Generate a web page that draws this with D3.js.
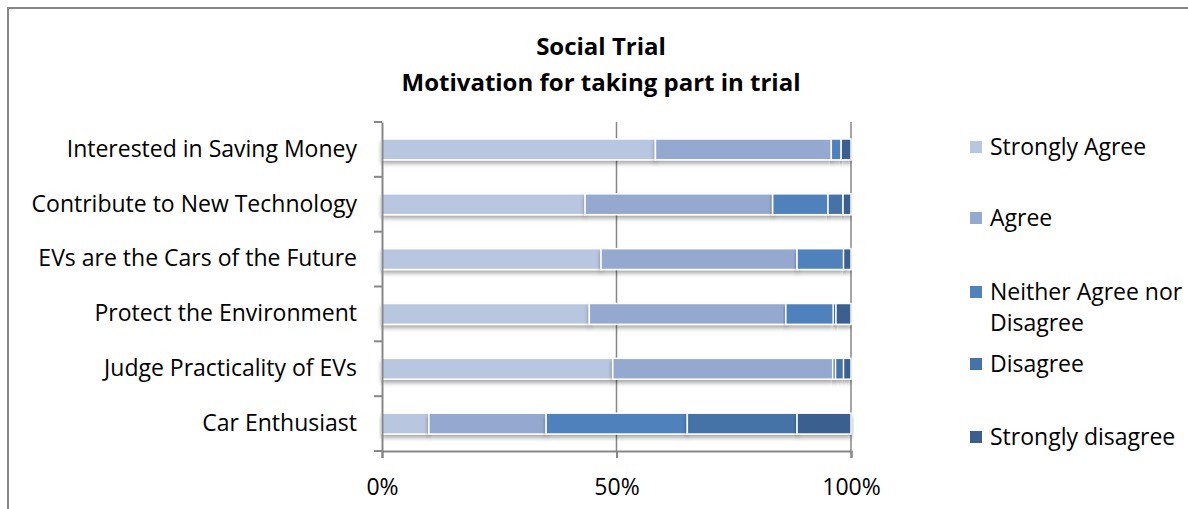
<!DOCTYPE html>
<html>
<head>
<meta charset="utf-8">
<script src="https://cdn.jsdelivr.net/npm/d3@7"></script>
<style>
  body { margin: 0; background: #fff; }
  text { font-family: "Open Sans", "Noto Sans", sans-serif; fill: #000; }
</style>
</head>
<body>
<svg id="chart" width="1188" height="509"></svg>
<script>
// chart data (percent of respondents)
var categories = ["Interested in Saving Money", "Contribute to New Technology", "EVs are the Cars of the Future",
                  "Protect the Environment", "Judge Practicality of EVs", "Car Enthusiast"];
var seriesNames = ["Strongly Agree", "Agree", "Neither Agree nor Disagree", "Disagree", "Strongly disagree"];
var stronglyAgree = [58.3, 43.3, 46.7, 44.2, 49.2, 10.0];
var agree         = [37.5, 40.0, 41.8, 41.9, 46.9, 25.0];
var neither       = [2.1, 11.8, 9.9, 10.1, 0.6, 30.1];
var disagree      = [0.0, 3.2, 0.0, 0.6, 1.7, 23.4];
var stronglyDis   = [2.1, 1.7, 1.6, 3.2, 1.6, 11.5];
var tickValues = [0, 0.5, 1];
var colors = ["#b9c6e0", "#95a9d0", "#4f81bd", "#4572a7", "#3b5e8e"];

var svg = d3.select("#chart");

// outer frame (cut off at right/bottom like the source)
svg.append("path").attr("d", "M8,509 V8 H1188")
  .attr("fill", "none").attr("stroke", "#878787").attr("stroke-width", 2);

var defs = svg.append("defs");
var f = defs.append("filter").attr("id", "shadow").attr("x", "-5%").attr("y", "-30%").attr("width", "110%").attr("height", "180%");
f.append("feDropShadow").attr("dx", 0).attr("dy", 3).attr("stdDeviation", 2)
  .attr("flood-color", "#000").attr("flood-opacity", 0.35);

svg.append("text").attr("x", 601).attr("y", 55).attr("text-anchor", "middle")
  .style("font-size", "24px").style("font-weight", "bold").text("Social Trial");
svg.append("text").attr("x", 601).attr("y", 91).attr("text-anchor", "middle")
  .style("font-size", "24px").style("font-weight", "bold").text("Motivation for taking part in trial");

var x = d3.scaleLinear().domain([0, 1]).range([382, 851]);
var y = d3.scaleBand().domain(categories).range([122, 451]).paddingInner(0.62).paddingOuter(0.31);

var rows = categories.map(function(c, i) {
  return { cat: c, v: [stronglyAgree[i], agree[i], neither[i], disagree[i], stronglyDis[i]] };
});
var stack = d3.stack().keys([0, 1, 2, 3, 4])
  .value(function(d, k) { return d.v[k]; })
  .offset(d3.stackOffsetExpand);
var layers = stack(rows);

// gridlines
svg.append("g").selectAll("line").data([0.5, 1]).join("line")
  .attr("x1", function(d) { return x(d); }).attr("x2", function(d) { return x(d); })
  .attr("y1", 122).attr("y2", 451)
  .attr("stroke", "#878787").attr("stroke-width", 1.5);

// bars
var bars = svg.append("g");
bars.selectAll("g").data(layers).join("g")
  .attr("fill", function(d, i) { return colors[i]; })
  .selectAll("rect").data(function(d) { return d; }).join("rect")
  .attr("x", function(d) { return x(d[0]); })
  .attr("width", function(d) { return Math.max(0, x(d[1]) - x(d[0])); })
  .attr("y", function(d) { return y(d.data.cat); })
  .attr("height", y.bandwidth())
  .attr("stroke", "#fff").attr("stroke-width", 1.5)
  .style("filter", "url(#shadow)");

// y axis
var yAxis = svg.append("g").attr("transform", "translate(382,0)")
  .call(d3.axisLeft(y).tickSize(0).tickPadding(25));
yAxis.select(".domain").attr("stroke", "#878787").attr("stroke-width", 2);
yAxis.selectAll("text").style("font-size", "23px");
// category boundary ticks
svg.append("g").selectAll("line").data(d3.range(categories.length + 1)).join("line")
  .attr("x1", 374).attr("x2", 382)
  .attr("y1", function(i) { return 122 + i * (451 - 122) / categories.length; })
  .attr("y2", function(i) { return 122 + i * (451 - 122) / categories.length; })
  .attr("stroke", "#878787").attr("stroke-width", 2);

// x axis
var xAxis = svg.append("g").attr("transform", "translate(0,451)")
  .call(d3.axisBottom(x).tickValues(tickValues).tickFormat(d3.format(".0%")).tickSize(7).tickPadding(21));
xAxis.select(".domain").attr("stroke", "#878787").attr("stroke-width", 2);
xAxis.selectAll(".tick line").attr("stroke", "#878787").attr("stroke-width", 2);
xAxis.selectAll("text").style("font-size", "23px");

// legend
var legendY = [147, 218, 292, 364, 437];
var leg = svg.append("g").selectAll("g").data(seriesNames).join("g")
  .attr("transform", function(d, i) { return "translate(970," + legendY[i] + ")"; });
leg.append("rect").attr("x", 0).attr("y", -6).attr("width", 12).attr("height", 12)
  .attr("fill", function(d, i) { return colors[i]; });
leg.append("text").attr("x", 20).attr("y", 0).attr("dy", "0.35em").style("font-size", "23px")
  .each(function(d) {
    var t = d3.select(this);
    if (d === "Neither Agree nor Disagree") {
      t.append("tspan").attr("x", 20).attr("dy", "0.35em").text("Neither Agree nor");
      t.append("tspan").attr("x", 20).attr("dy", "1.35em").text("Disagree");
      t.attr("dy", null);
    } else {
      t.text(d);
    }
  });
</script>
</body>
</html>
